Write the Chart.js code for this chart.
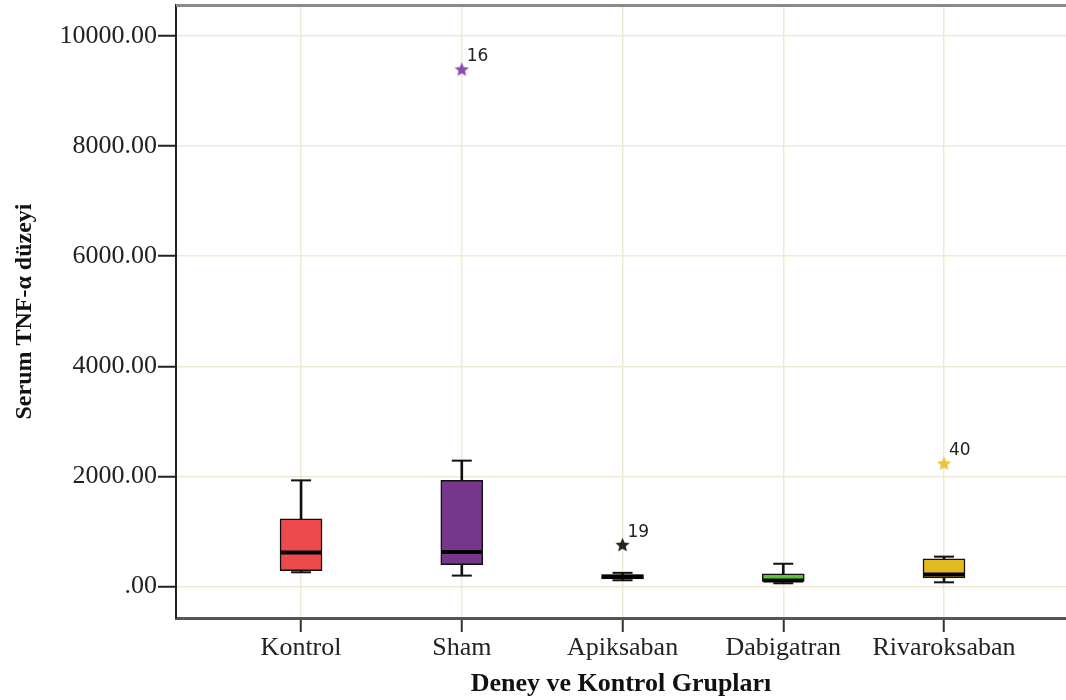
<!DOCTYPE html>
<html>
<head>
<meta charset="utf-8">
<script src="https://cdn.jsdelivr.net/npm/chart.js@4/dist/chart.umd.min.js"></script>
<style>
  html, body { margin: 0; padding: 0; background: #ffffff; }
  #wrap { position: relative; width: 1066px; height: 700px; }
</style>
</head>
<body>
<div id="wrap"><canvas id="chart"></canvas></div>
<script>
// Serum TNF-α by group: box-plot summaries
const groups = ['Kontrol', 'Sham', 'Apiksaban', 'Dabigatran', 'Rivaroksaban'];
const whiskerLow  = [260, 200, 115, 60, 78];
const q1          = [290, 399, 140, 95, 158];
const median      = [617, 630, 180, 110, 218];
const q3          = [1229, 1929, 220, 230, 503];
const whiskerHigh = [1929, 2287, 250, 415, 544];
const boxColors   = ['#EC4A4C', '#75368B', '#222222', '#5BC53A', '#E2B921'];

// extreme values with their case numbers
const outlierGroup  = [1, 2, 4];
const outlierValue  = [9383, 750, 2227];
const outlierId     = ['16', '19', '40'];
const outlierColors = ['#8B4BB0', '#222222', '#E9C53A'];

const yTicks = [0, 2000, 4000, 6000, 8000, 10000];

// five-point star marker
function starImage(color, r) {
  const c = document.createElement('canvas');
  const s = Math.ceil(r * 2 + 2);
  c.width = s; c.height = s;
  const g = c.getContext('2d');
  const cx = s / 2, cy = s / 2, inner = r * 0.45;
  g.beginPath();
  for (let k = 0; k < 10; k++) {
    const rad = (k % 2 === 0) ? r : inner;
    const a = -Math.PI / 2 + k * Math.PI / 5;
    const px = cx + rad * Math.cos(a), py = cy + rad * Math.sin(a);
    if (k === 0) g.moveTo(px, py); else g.lineTo(px, py);
  }
  g.closePath();
  g.fillStyle = color;
  g.fill();
  return c;
}

const serif = "'Liberation Serif', 'Times New Roman', serif";

// frame line across the top of the plot area
const topFrame = {
  id: 'topFrame',
  afterDraw(chart) {
    const { ctx, chartArea } = chart;
    ctx.save();
    ctx.strokeStyle = '#8a8a8a';
    ctx.lineWidth = 3;
    ctx.beginPath();
    ctx.moveTo(chartArea.left, chartArea.top + 0.5);
    ctx.lineTo(chartArea.right, chartArea.top + 0.5);
    ctx.stroke();
    ctx.restore();
  }
};

// case-number labels beside the extreme values
const caseLabels = {
  id: 'caseLabels',
  afterDatasetsDraw(chart) {
    const idx = chart.data.datasets.findIndex(d => d.label === 'extremes');
    const meta = chart.getDatasetMeta(idx);
    const { ctx } = chart;
    ctx.save();
    ctx.font = "17px 'DejaVu Sans', sans-serif";
    ctx.fillStyle = '#222222';
    ctx.textAlign = 'left';
    ctx.textBaseline = 'middle';
    meta.data.forEach((pt, i) => {
      ctx.fillText(outlierId[i], pt.x + 5, pt.y - 13);
    });
    ctx.restore();
  }
};

const at = arr => groups.map((g, i) => ({ x: i, y: arr[i] }));

new Chart(document.getElementById('chart'), {
  type: 'bar',
  data: {
    datasets: [
      {
        label: 'whisker',
        type: 'bar',
        data: groups.map((g, i) => ({ x: i, y: [whiskerLow[i], whiskerHigh[i]] })),
        backgroundColor: '#111111',
        barThickness: 2,
        grouped: false,
        order: 5
      },
      {
        label: 'box',
        type: 'bar',
        data: groups.map((g, i) => ({ x: i, y: [q1[i], q3[i]] })),
        backgroundColor: boxColors,
        borderColor: '#111111',
        borderWidth: 1.5,
        borderSkipped: false,
        barThickness: 42,
        grouped: false,
        order: 4
      },
      {
        label: 'capHigh',
        type: 'scatter',
        data: at(whiskerHigh),
        pointStyle: 'line',
        radius: 10,
        borderColor: '#111111',
        borderWidth: 2,
        order: 3
      },
      {
        label: 'capLow',
        type: 'scatter',
        data: at(whiskerLow),
        pointStyle: 'line',
        radius: 10,
        borderColor: '#111111',
        borderWidth: 2,
        order: 3
      },
      {
        label: 'median',
        type: 'scatter',
        data: at(median),
        pointStyle: 'line',
        radius: 20,
        borderColor: '#000000',
        borderWidth: 4,
        order: 2
      },
      {
        label: 'extremes',
        type: 'scatter',
        data: outlierGroup.map((g, i) => ({ x: g, y: outlierValue[i] })),
        pointStyle: outlierColors.map(c => starImage(c, 7.5)),
        radius: 7,
        order: 1
      }
    ]
  },
  options: {
    responsive: true,
    maintainAspectRatio: false,
    animation: false,
    layout: { autoPadding: false, padding: { top: 5, right: 0, bottom: 0, left: 0 } },
    plugins: {
      legend: { display: false },
      tooltip: { enabled: false }
    },
    scales: {
      x: {
        type: 'linear',
        offset: false,
        min: -0.778,
        max: 4.759,
        afterBuildTicks(scale) {
          scale.ticks = groups.map((g, i) => ({ value: i }));
        },
        afterFit(scale) {
          scale.height = 82;
          scale.paddingLeft = 0;
          scale.paddingRight = 0;
        },
        ticks: {
          autoSkip: false,
          maxRotation: 0,
          padding: 1,
          color: '#222222',
          font: { family: serif, size: 26 },
          callback: v => groups[v] ?? ''
        },
        grid: {
          offset: false,
          color: '#EFE9D5',
          lineWidth: 1.5,
          drawTicks: true,
          tickLength: 14,
          tickColor: '#333333',
          tickWidth: 2
        },
        border: { display: true, color: '#555555', width: 3 },
        title: {
          display: true,
          text: 'Deney ve Kontrol Grupları',
          color: '#111111',
          font: { family: serif, size: 26, weight: 'bold' },
          padding: { top: 0, bottom: 0 }
        }
      },
      y: {
        min: -570,
        max: 10560,
        afterBuildTicks(scale) {
          scale.ticks = yTicks.map(v => ({ value: v }));
        },
        afterFit(scale) {
          scale.width = 176;
          scale.paddingTop = 0;
          scale.paddingBottom = 0;
        },
        ticks: {
          padding: 1,
          color: '#222222',
          font: { family: serif, size: 26 },
          callback: v => (v === 0 ? '.00' : v.toFixed(2))
        },
        grid: {
          color: '#EFE9D5',
          lineWidth: 1.5,
          drawTicks: true,
          tickLength: 18,
          tickColor: '#222222',
          tickWidth: 2
        },
        border: { display: true, color: '#222222', width: 2 },
        title: {
          display: true,
          text: 'Serum TNF-α düzeyi',
          color: '#111111',
          font: { family: serif, size: 24, weight: 'bold' },
          padding: { top: 10, bottom: 0 }
        }
      }
    }
  },
  plugins: [topFrame, caseLabels]
});
</script>
</body>
</html>
